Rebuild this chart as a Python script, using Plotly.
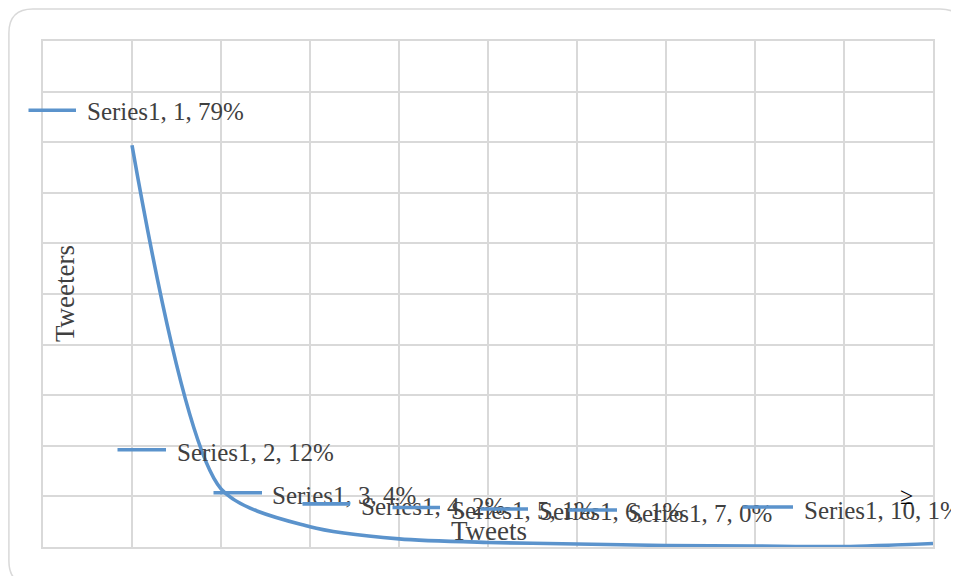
import plotly.graph_objects as go

# ---- data ----
tweets = [1, 2, 3, 4, 5, 6, 7, 8, 9, 10]
tweeters_share = [0.794, 0.115, 0.040, 0.016, 0.009, 0.006, 0.003, 0.002, 0.001, 0.007]
series_name = "Series1"
labeled_points = [1, 2, 3, 4, 5, 6, 7, 10]
x_title = "Tweets"
y_title = "Tweeters"

# ---- style ----
W, H = 959, 576
PAGE_OFF = 8  # page body margin in the browser
# plot area in screen pixels
SL, ST, SR, SB = 43, 41, 933, 547
L = SL - PAGE_OFF
T = ST - PAGE_OFF
R = W - (SR - PAGE_OFF)
B = H - (SB - PAGE_OFF)
LINE_COLOR = "#5B93CC"
GRID = "#D9D9D9"
TEXT = "#404040"
FONT = "Liberation Serif"

# label offsets in pixels relative to the data point (key x0, key x1, key y up, text x, text y up)
label_offsets = {
    1: (-104, -56, 35, -46, 34),
    2: (-104, -55, 39, -45, 36),
    3: (-97, -48, 34, -39, 31),
    4: (-97, -49, 35, -39, 32),
    5: (-96, -48, 35, -38, 32),
    6: (-97, -49, 35, -39, 32),
    7: (-98, -49, 35.5, -39, 31.5),
    10: (-191, -140, 36.5, -130, 32.5),
}

fig = go.Figure()
fig.add_trace(go.Scatter(
    x=tweets, y=tweeters_share, mode="lines",
    line=dict(color=LINE_COLOR, width=3.6, shape="spline", smoothing=0.75),
    name=series_name, showlegend=False, hoverinfo="skip",
))

annotations = []
for xv, yv in zip(tweets, tweeters_share):
    if xv not in labeled_points:
        continue
    kx0, kx1, ky, tx, ty = label_offsets[xv]
    # legend key drawn as a headless arrow
    annotations.append(dict(
        x=xv, y=yv, xref="x", yref="y", xshift=kx1, yshift=ky,
        ax=-(kx1 - kx0), ay=0, showarrow=True, arrowhead=0,
        arrowwidth=3.6, arrowcolor=LINE_COLOR, standoff=0, startstandoff=0,
        text=" ", font=dict(size=1), borderpad=0,
    ))
    annotations.append(dict(
        x=xv, y=yv, xref="x", yref="y", xshift=tx, yshift=ty,
        xanchor="left", yanchor="middle", showarrow=False, borderpad=0,
        text=f"{series_name}, {xv}, {yv:.0%}",
        font=dict(family=FONT, size=25, color=TEXT),
    ))

pw, ph = SR - SL, SB - ST
def px(x):
    return (x - SL) / pw
def py(y):
    return (SB - y) / ph

annotations.append(dict(
    x=px(489), y=py(531), xref="paper", yref="paper", showarrow=False,
    xanchor="center", yanchor="middle", text=x_title,
    font=dict(family=FONT, size=27, color=TEXT),
))
annotations.append(dict(
    x=px(65), y=py(294), xref="paper", yref="paper", showarrow=False,
    xanchor="center", yanchor="middle", text=y_title, textangle=-90,
    font=dict(family=FONT, size=27, color=TEXT),
))
annotations.append(dict(
    x=px(906), y=py(496), xref="paper", yref="paper", showarrow=False,
    xanchor="center", yanchor="middle", text="≥",
    font=dict(family=FONT, size=24, color="#000000"),
))

# rounded chart-area border (screen pixels)
bl, bt, br, bb, rr = 8.9, 8.9, 964, 585, 24
path = (
    f"M {px(bl)} {py(bt + rr)} Q {px(bl)} {py(bt)} {px(bl + rr)} {py(bt)} "
    f"L {px(br - rr)} {py(bt)} Q {px(br)} {py(bt)} {px(br)} {py(bt + rr)} "
    f"L {px(br)} {py(bb - rr)} Q {px(br)} {py(bb)} {px(br - rr)} {py(bb)} "
    f"L {px(bl + rr)} {py(bb)} Q {px(bl)} {py(bb)} {px(bl)} {py(bb - rr)} Z"
)

fig.update_layout(
    width=W, height=H,
    margin=dict(l=L, r=R, t=T, b=B),
    paper_bgcolor="white", plot_bgcolor="white",
    showlegend=False,
    annotations=annotations,
    shapes=[dict(type="path", path=path, xref="paper", yref="paper",
                 line=dict(color=GRID, width=1.5), layer="below")],
    xaxis=dict(range=[0, 10], dtick=1, tick0=0, showgrid=True, gridcolor=GRID,
               gridwidth=1.5, showticklabels=False, zeroline=False,
               showline=True, linecolor=GRID, linewidth=1.5, mirror=True, ticks=""),
    yaxis=dict(range=[0, 1], dtick=0.1, tick0=0, showgrid=True, gridcolor=GRID,
               gridwidth=1.5, showticklabels=False, zeroline=False,
               showline=True, linecolor=GRID, linewidth=1.5, mirror=True, ticks=""),
)

fig.write_html("out.html")
